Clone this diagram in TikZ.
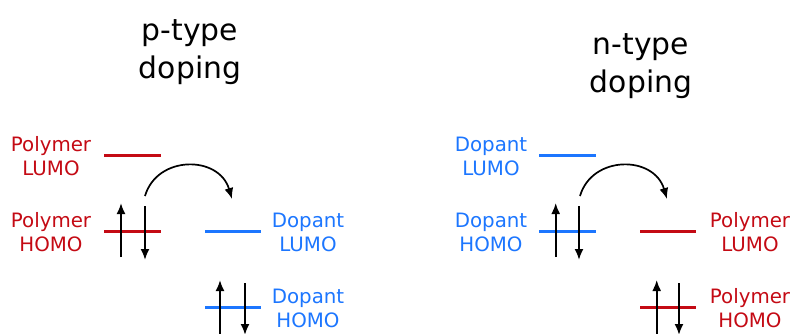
\documentclass[tikz,border=0pt]{standalone}
\usepackage{fontspec}
\setmainfont{DejaVu Sans}
\usetikzlibrary{arrows.meta}
\definecolor{polyred}{RGB}{196,10,20}
\definecolor{dopblue}{RGB}{28,118,255}
\tikzset{
  level/.style={line width=3.2pt},
  spin/.style={line width=1.9pt, draw=black, -{Latex[length=11pt,width=9pt]}},
  transfer/.style={line width=1.7pt, draw=black, -{Latex[length=11pt,width=9pt]}},
  lbl/.style={align=center, font=\fontsize{19.8}{24}\selectfont, inner sep=0pt},
  ttl/.style={align=center, font=\fontsize{29.8}{38.5}\selectfont, inner sep=0pt},
}
\begin{document}
\begin{tikzpicture}[x=1pt,y=-1pt]
  \useasboundingbox (0,0) rectangle (792,333);
  \clip (0,0) rectangle (792,333);

  % ---------- p-type doping ----------
  \node[ttl] (ptitle) at (190,52) {p-type\\doping};

  \draw[level, polyred] (104,155.7) -- (161,155.7);
  \draw[level, polyred] (104,231.7) -- (161,231.7);
  \draw[level, dopblue] (205,231.7) -- (261,231.7);
  \draw[level, dopblue] (205,307.7) -- (261,307.7);

  \node[lbl, polyred] (pLUMOl) at (51,156) {Polymer\\LUMO};
  \node[lbl, polyred] (pHOMOl) at (51,232) {Polymer\\HOMO};
  \node[lbl, dopblue] (dLUMOl) at (308,232) {Dopant\\LUMO};
  \node[lbl, dopblue] (dHOMOl) at (308,308) {Dopant\\HOMO};

  % electron pairs
  \draw[spin] (121,257) -- (121,203);
  \draw[spin] (145,206) -- (145,260);
  \draw[spin] (220,334) -- (220,280);
  \draw[spin] (245,283) -- (245,335);

  % electron transfer
  \coordinate (pfrom) at (145,196);
  \coordinate (pto) at (232,199);
  \draw[transfer] (pfrom) .. controls (157,155) and (219,155) .. (pto);

  % ---------- n-type doping ----------
  \node[ttl] (ntitle) at (641,66) {n-type\\doping};

  \draw[level, dopblue] (539,155.7) -- (596,155.7);
  \draw[level, dopblue] (539,231.7) -- (596,231.7);
  \draw[level, polyred] (640,231.7) -- (696,231.7);
  \draw[level, polyred] (640,307.7) -- (696,307.7);

  \node[lbl, dopblue] (nLUMOl) at (491,156) {Dopant\\LUMO};
  \node[lbl, dopblue] (nHOMOl) at (491,232) {Dopant\\HOMO};
  \node[lbl, polyred] (npLUMOl) at (750,232) {Polymer\\LUMO};
  \node[lbl, polyred] (npHOMOl) at (750,308) {Polymer\\HOMO};

  \draw[spin] (555.7,257) -- (555.7,203);
  \draw[spin] (579,206) -- (579,260);
  \draw[spin] (656.7,334) -- (656.7,280);
  \draw[spin] (679,283) -- (679,335);

  \coordinate (nfrom) at (580,196);
  \coordinate (nto) at (667,199);
  \draw[transfer] (nfrom) .. controls (592,155) and (654,155) .. (nto);
\end{tikzpicture}
\end{document}
